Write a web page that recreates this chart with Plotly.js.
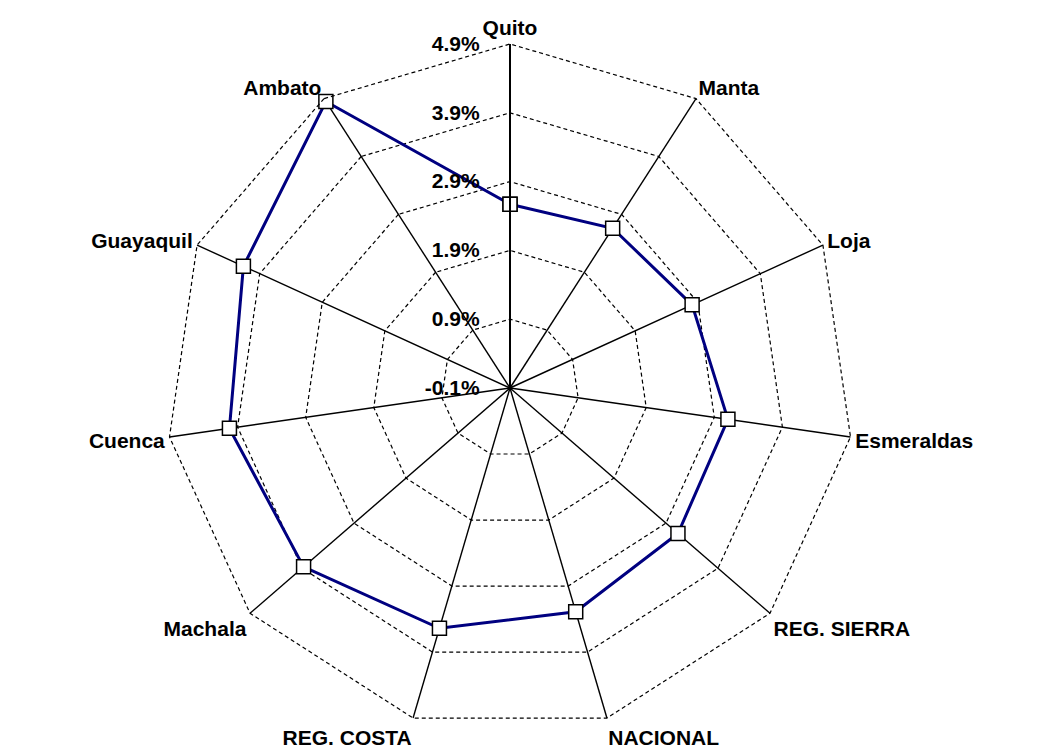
<!DOCTYPE html>
<html>
<head>
<meta charset="utf-8">
<script src="https://cdn.plot.ly/plotly-3.0.1.min.js"></script>
<style>html,body{margin:0;padding:0;background:#fff;}#chart{width:1064px;height:753px;}</style>
</head>
<body>
<div id="chart"></div>
<script>
const categories = ["Quito", "Manta", "Loja", "Esmeraldas", "REG. SIERRA", "NACIONAL", "REG. COSTA", "Machala", "Cuenca", "Guayaquil", "Ambato"];
const values = [2.57, 2.66, 2.81, 3.10, 3.13, 3.29, 3.54, 3.87, 4.02, 4.16, 4.85];
const tickValues = [-0.1, 0.9, 1.9, 2.9, 3.9, 4.9];
const tickLabels = ["-0.1%", "0.9%", "1.9%", "2.9%", "3.9%", "4.9%"];

const labelFont = {family: "Liberation Sans, Arial, sans-serif", size: 21, weight: "bold", color: "#000"};

const trace = {
  type: "scatterpolar",
  r: values.concat([values[0]]),
  theta: categories.concat([categories[0]]),
  mode: "lines+markers",
  line: {color: "#000080", width: 3},
  marker: {symbol: "square", size: 14, color: "#fff", line: {color: "#000", width: 1.5}},
  hoverinfo: "skip",
  cliponaxis: false
};

const layout = {
  width: 1064, height: 753,
  margin: {l: 166, r: 210, t: 44, b: 21},
  paper_bgcolor: "#fff",
  showlegend: false,
  polar: {
    bgcolor: "#fff",
    gridshape: "linear",
    angularaxis: {
      direction: "clockwise",
      rotation: 90,
      categoryorder: "array",
      categoryarray: categories,
      showgrid: true, gridcolor: "#000", gridwidth: 1.4,
      showline: true, linecolor: "#000", linewidth: 1.2,
      ticks: "",
      tickfont: labelFont
    },
    radialaxis: {
      range: [-0.1, 4.9],
      tickvals: tickValues,
      ticktext: tickLabels,
      angle: 90,
      side: "counterclockwise",
      tickangle: 90,
      showline: true, linecolor: "#000", linewidth: 2,
      showgrid: true, gridcolor: "#000", gridwidth: 1.2, griddash: "4px,3px",
      ticks: "outside", ticklen: 22, tickcolor: "rgba(0,0,0,0)",
      tickfont: labelFont
    }
  }
};

Plotly.newPlot("chart", [trace], layout, {displayModeBar: false, staticPlot: true}).then(function (gd) {
  gd.querySelectorAll(".angular-line path, path.angular-line, .angular-line").forEach(function (el) {
    el.style.strokeDasharray = "4px,3px";
  });
});
</script>
</body>
</html>
